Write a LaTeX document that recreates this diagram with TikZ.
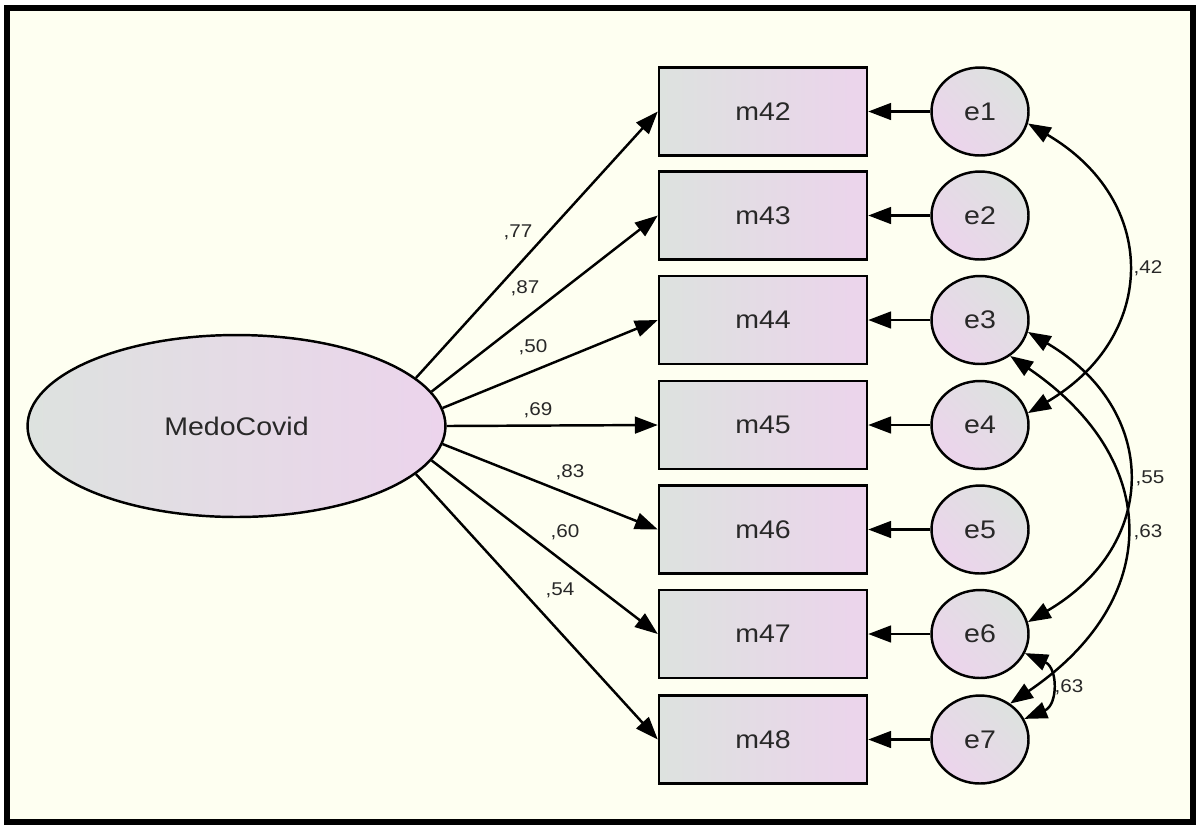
\documentclass[tikz,border=0pt]{standalone}
\usepackage{fontspec}
\setmainfont{Liberation Sans}[FakeStretch=1.12]
\usetikzlibrary{arrows.meta,shapes.geometric}
\definecolor{amosbg}{RGB}{254,255,241}
\definecolor{amosgray}{RGB}{221,226,223}
\definecolor{amospink}{RGB}{236,212,236}
\definecolor{amostext}{RGB}{40,40,40}
\begin{document}
\begin{tikzpicture}[x=0.02cm, y=-0.02cm, line width=1.4pt, >={Triangle[length=13pt,width=9.5pt]},
 lat node/.style={ellipse,draw,left color=amosgray,right color=amospink,minimum width=8.36cm,minimum height=3.64cm,inner sep=0pt},
 obs node/.style={rectangle,draw,left color=amosgray,right color=amospink,minimum width=4.16cm,minimum height=1.76cm,inner sep=0pt},
 err node/.style={ellipse,draw,left color=amosgray,right color=amospink,shading angle=-45,minimum width=1.94cm,minimum height=1.76cm,inner sep=0pt},
 coef/.style={font=\fontsize{10.5}{12}\selectfont,text=amostext,inner sep=0pt}]
\useasboundingbox (0,0) rectangle (1199,826);
\draw[line width=3.4pt,fill=amosbg] (7,8) rectangle (1193,822);
\begin{scope}[every node/.style={font=\fontsize{14.5}{17}\selectfont,text=amostext}]
\node[lat node] (MedoCovid) at (236.5,426) {MedoCovid};
\node[obs node] (m42) at (763,111.5) {m42};
\node[obs node] (m43) at (763,215.5) {m43};
\node[obs node] (m44) at (763,320) {m44};
\node[obs node] (m45) at (763,425) {m45};
\node[obs node] (m46) at (763,529.5) {m46};
\node[obs node] (m47) at (763,634) {m47};
\node[obs node] (m48) at (763,739.5) {m48};
\node[err node] (e1) at (980,111.5) {e1};
\node[err node] (e2) at (980,215.5) {e2};
\node[err node] (e3) at (980,320) {e3};
\node[err node] (e4) at (980,425) {e4};
\node[err node] (e5) at (980,529.5) {e5};
\node[err node] (e6) at (980,634) {e6};
\node[err node] (e7) at (980,739.5) {e7};
\end{scope}
\begin{scope}[->]
\draw (MedoCovid.15) -- (m42.west);
\draw (MedoCovid.10) -- (m43.west);
\draw (MedoCovid.5) -- (m44.west);
\draw (MedoCovid.0) -- (m45.west);
\draw (MedoCovid.-5) -- (m46.west);
\draw (MedoCovid.-10) -- (m47.west);
\draw (MedoCovid.-15) -- (m48.west);
\draw (e1) -- (m42);
\draw (e2) -- (m43);
\draw (e3) -- (m44);
\draw (e4) -- (m45);
\draw (e5) -- (m46);
\draw (e6) -- (m47);
\draw (e7) -- (m48);
\end{scope}
% covariances
\begin{scope}[<->]
\draw (e1.-14) .. controls (1159,200) and (1159,336) .. (e4.14);
\draw (e3.-14) .. controls (1160,410) and (1160,545) .. (e6.14);
\draw (e3.-50) .. controls (1163,460) and (1163,600) .. (e7.50);
\draw (e6.-23) .. controls (1058,668) and (1058,705) .. (e7.25);
\end{scope}
\begin{scope}[every node/.style={coef}]
\node (l42) at (518,232) {,77};
\node (l43) at (525,288) {,87};
\node (l44) at (533,347) {,50};
\node (l45) at (538,410) {,69};
\node (l46) at (570,472) {,83};
\node (l47) at (565,532) {,60};
\node (l48) at (560,590) {,54};
\node (c14) at (1148,268) {,42};
\node (c36) at (1150,478) {,55};
\node (c37) at (1148,532) {,63};
\node (c67) at (1069,687) {,63};
\end{scope}
\end{tikzpicture}
\end{document}
